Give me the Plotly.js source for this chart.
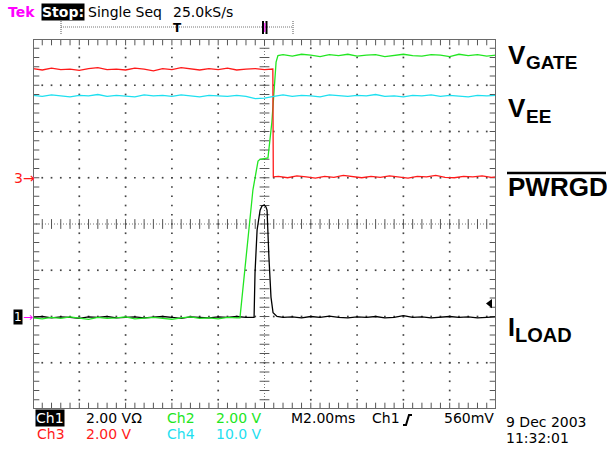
<!DOCTYPE html>
<html><head><meta charset="utf-8">
<script src="https://cdn.plot.ly/plotly-3.0.1.min.js"></script>
<style>html,body{margin:0;padding:0;background:#fff;}#chart{width:607px;height:449px;}</style>
</head><body><div id="chart"></div>
<script>
// ---- Data (time in ms, 2.00 ms/div; vertical position in screen divisions) ----
var ch3Time = [-10,-9.6,-9.2,-8.8,-8.4,-8,-7.6,-7.2,-6.8,-6.4,-6,-5.6,-5.2,-4.8,-4.4,-4,-3.6,-3.2,-2.8,-2.4,-2,-1.6,-1.2,-0.8,-0.4,0,0.3,0.36,
               0.38,0.6,1,1.4,1.8,2.2,2.6,3,3.4,3.8,4.2,4.6,5,5.4,5.8,6.2,6.6,7,7.4,7.8,8.2,8.6,9,9.4,9.8,10];
var ch3Div  = [3.36,3.33,3.37,3.34,3.35,3.32,3.36,3.38,3.34,3.35,3.33,3.37,3.35,3.31,3.36,3.34,3.38,3.35,3.33,3.36,3.34,3.37,3.33,3.35,3.36,3.34,3.35,3.35,
               1.02,1.03,1.00,1.04,1.02,0.99,1.03,1.01,1.05,1.02,1.00,1.03,1.01,1.04,1.02,0.99,1.03,1.02,1.05,1.01,1.00,1.03,1.02,1.04,1.01,1.02];

var ch4Time = [-10,-9.6,-9.2,-8.8,-8.4,-8,-7.6,-7.2,-6.8,-6.4,-6,-5.6,-5.2,-4.8,-4.4,-4,-3.6,-3.2,-2.8,-2.4,-2,-1.6,-1.2,-0.8,-0.4,0,0.4,0.8,1.2,1.6,2,2.4,2.8,3.2,3.6,4,4.4,4.8,5.2,5.6,6,6.4,6.8,7.2,7.6,8,8.4,8.8,9.2,9.6,10];
var ch4Div  = [2.78,2.76,2.79,2.77,2.75,2.78,2.77,2.80,2.76,2.78,
               2.77,2.75,2.79,2.77,2.78,2.76,2.79,2.77,2.75,2.78,
               2.77,2.76,2.78,2.76,2.71,2.72,2.76,2.79,2.76,2.78,
               2.77,2.75,2.79,2.77,2.76,2.78,2.77,2.80,2.76,2.77,
               2.75,2.78,2.77,2.79,2.76,2.78,2.77,2.75,2.78,2.77,2.78];

var ch2Time = [-10,-9.6,-9.2,-8.8,-8.4,-8,-7.6,-7.2,-6.8,-6.4,-6,-5.6,-5.2,-4.8,-4.4,-4,-3.6,-3.2,-2.8,-2.4,-2,-1.6,-1.2,
               -1.06,-0.5,-0.41,-0.28,-0.19,0.0,0.15,0.32,0.5,0.58,
               0.8,1.2,1.6,2,2.4,2.8,3.2,3.6,4,4.4,4.8,5.2,5.6,6,6.4,6.8,7.2,7.6,8,8.4,8.8,9.2,9.6,10];
var ch2Div  = [-2.03,-2.05,-2.02,-2.04,-2.01,-2.03,-2.06,-2.02,-2.04,-2.03,-2.01,-2.05,-2.03,-2.02,-2.04,-2.06,-2.03,-2.01,-2.04,-2.03,-2.05,-2.02,-2.03,
               -2.03,0.74,0.99,1.36,1.40,1.42,1.43,2.21,3.50,3.64,
               3.66,3.63,3.67,3.65,3.62,3.66,3.64,3.67,3.63,3.65,3.66,3.62,3.65,3.67,3.64,3.63,3.66,3.65,3.62,3.67,3.64,3.66,3.63,3.65];

var ch1Time = [-10,-9.6,-9.2,-8.8,-8.4,-8,-7.6,-7.2,-6.8,-6.4,-6,-5.6,-5.2,-4.8,-4.4,-4,-3.6,-3.2,-2.8,-2.4,-2,-1.6,-1.2,-0.8,
               -0.45,-0.41,-0.32,-0.19,-0.11,-0.02,0.06,0.11,0.19,0.28,0.37,0.54,
               0.8,1.2,1.6,2,2.4,2.8,3.2,3.6,4,4.4,4.8,5.2,5.6,6,6.4,6.8,7.2,7.6,8,8.4,8.8,9.2,9.6,10];
var ch1Div  = [-2.02,-2.00,-2.03,-2.01,-2.02,-2.04,-2.01,-2.02,-2.00,-2.03,-2.02,-2.01,-2.03,-2.02,-2.00,-2.02,-2.04,-2.01,-2.02,-2.03,-2.01,-2.02,-2.00,-2.02,
               -2.02,-1.06,-0.13,0.30,0.39,0.41,0.37,0.30,-0.71,-1.58,-1.92,-2.00,
               -2.02,-2.01,-2.03,-2.00,-2.02,-1.99,-2.02,-2.03,-2.01,-2.02,-2.00,-2.03,-2.02,-1.98,-2.02,-2.01,-2.03,-2.02,-2.00,-2.02,-2.01,-2.03,-2.02,-2.01];

var triggerLevel = {time: 9.74, div: -1.72};

var chColors = {ch1:'#000000', ch2:'#22e622', ch3:'#ff1a1a', ch4:'#1ee0f0'};

// ---- Graticule (generated screen furniture) ----
var dotX=[], dotY=[];
for (var k=1;k<10;k++){ if(k===5) continue; var gx=-10+2*k; for (var j=0;j<=40;j++){ dotX.push(gx); dotY.push(-4+0.2*j);} }
for (var k=1;k<8;k++){ if(k===4) continue; var gy=-4+k; for (var j=0;j<=50;j++){ dotX.push(-10+0.4*j); dotY.push(gy);} }
var tnsX=[], tnsY=[], tewX=[], tewY=[];
for (var j=1;j<50;j++){ tnsX.push(-10+0.4*j,-10+0.4*j); tnsY.push(4,-4); }
for (var j=1;j<40;j++){ tewX.push(-10,10); tewY.push(-4+0.2*j,-4+0.2*j); }
var cnsX=[], cnsY=[], cewX=[], cewY=[];
for (var j=1;j<50;j++){ cnsX.push(-10+0.4*j); cnsY.push(0); }
for (var j=1;j<40;j++){ cewX.push(0); cewY.push(-4+0.2*j); }

function tick(x,y,sym,size){ return {x:x,y:y,type:'scatter',mode:'markers',hoverinfo:'skip',showlegend:false,
  marker:{symbol:sym,size:size,color:'#555',line:{color:'#555',width:1}}}; }

var traces = [
  {x:dotX,y:dotY,type:'scatter',mode:'markers',hoverinfo:'skip',showlegend:false,marker:{symbol:'square',size:1.7,color:'#444'}},
  tick(tnsX,tnsY,'line-ns',9), tick(tewX,tewY,'line-ew',9),
  tick(cnsX,cnsY,'line-ns',7), tick(cewX,cewY,'line-ew',7),
  {x:ch1Time,y:ch1Div,type:'scatter',mode:'lines',name:'Ch1',line:{color:chColors.ch1,width:1.3}},
  {x:ch2Time,y:ch2Div,type:'scatter',mode:'lines',name:'Ch2',line:{color:chColors.ch2,width:1.3}},
  {x:ch3Time,y:ch3Div,type:'scatter',mode:'lines',name:'Ch3',line:{color:chColors.ch3,width:1.3}},
  {x:ch4Time,y:ch4Div,type:'scatter',mode:'lines',name:'Ch4',line:{color:chColors.ch4,width:1.3}},
  {x:[triggerLevel.time],y:[triggerLevel.div],type:'scatter',mode:'markers',showlegend:false,hoverinfo:'skip',cliponaxis:false,
   marker:{symbol:'triangle-left',size:8,color:'#000'}}
];

// ---- screen pixel -> paper helpers ----
var PL=33, PR=496, PT=39, PB=409;
function px(x){ return (x-PL)/(PR-PL); }
function py(y){ return (PB-y)/(PB-PT); }
var mono = 'DejaVu Sans, sans-serif';
function ann(text,x,y,color,size,extra){
  var a = {text:text,xref:'paper',yref:'paper',x:px(x),y:py(y),xanchor:'left',yanchor:'middle',showarrow:false,
    font:{family:mono,size:size||14,color:color||'#000'}};
  for (var k in extra){ if(k==='weight'){ a.font.weight=extra[k]; } else { a[k]=extra[k]; } }
  return a;
}
var bigFont = 'Liberation Sans, Arial, sans-serif';
function big(text,x,y,size){ return {text:text,xref:'paper',yref:'paper',x:px(x),y:py(y),xanchor:'left',yanchor:'middle',showarrow:false,
  font:{family:bigFont,size:size,color:'#000',weight:'bold'}}; }

var annotations = [
  ann('Tek',6,12,'#ff00ff',14,{weight:'bold'}),
  ann('Stop:',41,12,'#fff',14,{bgcolor:'#000',borderpad:0,weight:'bold'}),
  ann('Single Seq',86,12,'#000',14),
  ann('25.0kS/s',171,12,'#000',14),
  ann('T',177,28,'#000',12,{xanchor:'center',weight:'bold'}),
  ann('Ch1',35,418,'#fff',14,{bgcolor:'#000',borderpad:0}),
  ann('2.00 V\u03A9',84,418,'#000',14),
  ann('Ch2',165,418,chColors.ch2,14),
  ann('2.00 V',214,418,chColors.ch2,14),
  ann('M2.00ms',289,418,'#000',14),
  ann('Ch1',370,418,'#000',14),
  ann('560mV',442,418,'#000',14),
  ann('Ch3',35,434,chColors.ch3,14),
  ann('2.00 V',84,434,chColors.ch3,14),
  ann('Ch4',165,434,chColors.ch4,14),
  ann('10.0 V',214,434,chColors.ch4,14),
  ann('9 Dec 2003',504,422,'#000',14),
  ann('11:32:01',504,438,'#000',14),
  ann('3\u2192',12,178,chColors.ch3,14),
  ann('1',13,317,'#fff',12,{bgcolor:'#000',borderpad:0}),
  ann('\u2192',21,317,'#ff00ff',12),
  big('V',506,55,26), big('GATE',524,62,19),
  big('V',506,108,26), big('EE',524,116.5,19),
  big('PWRGD',506,187,26),
  big('I',506,326.5,25), big('LOAD',513,334.5,20)
];

var shapes = [
  {type:'rect',xref:'x',yref:'y',x0:-10,x1:10,y0:-4,y1:4,line:{color:'#6a6a6a',width:2},layer:'above'},
  {type:'line',xref:'x',yref:'y',x0:0,x1:0,y0:-4,y1:4,line:{color:'#777',width:1,dash:'1px,2px'},layer:'below'},
  {type:'line',xref:'x',yref:'y',x0:-10,x1:10,y0:0,y1:0,line:{color:'#777',width:1,dash:'1px,2px'},layer:'below'},
  {type:'line',xref:'paper',yref:'paper',x0:px(61),x1:px(293),y0:py(27),y1:py(27),line:{color:'#777',width:1,dash:'1px,1px'}},
  {type:'line',xref:'paper',yref:'paper',x0:px(61),x1:px(61),y0:py(21),y1:py(34),line:{color:'#555',width:1,dash:'1px,1px'}},
  {type:'line',xref:'paper',yref:'paper',x0:px(293),x1:px(293),y0:py(21),y1:py(34),line:{color:'#555',width:1,dash:'1px,1px'}},
  {type:'line',xref:'paper',yref:'paper',x0:px(263),x1:px(263),y0:py(21),y1:py(34),line:{color:'#000',width:2}},
  {type:'line',xref:'paper',yref:'paper',x0:px(266.5),x1:px(266.5),y0:py(21),y1:py(34),line:{color:'#000',width:2}},
  {type:'line',xref:'paper',yref:'paper',x0:px(264.8),x1:px(264.8),y0:py(23),y1:py(32),line:{color:'#ff00ff',width:1}},
  {type:'path',xref:'paper',yref:'paper',path:'M '+px(403)+','+py(425)+' L '+px(406)+','+py(425)+' L '+px(409)+','+py(415)+' L '+px(412)+','+py(415),line:{color:'#000',width:2}},
  {type:'line',xref:'paper',yref:'paper',x0:px(507),x1:px(606),y0:py(173),y1:py(173),line:{color:'#000',width:2.5}}
];

var layout = {
  width:607,height:449,margin:{l:PL,r:607-PR,t:PT,b:449-PB,pad:0},
  paper_bgcolor:'#fff',plot_bgcolor:'#fff',showlegend:false,
  xaxis:{range:[-10,10],showgrid:false,zeroline:false,showticklabels:false,ticks:'',showline:false,fixedrange:true},
  yaxis:{range:[-4,4],showgrid:false,zeroline:false,showticklabels:false,ticks:'',showline:false,fixedrange:true},
  annotations:annotations,shapes:shapes
};
Plotly.newPlot('chart',traces,layout,{displayModeBar:false,staticPlot:true});
</script></body></html>
